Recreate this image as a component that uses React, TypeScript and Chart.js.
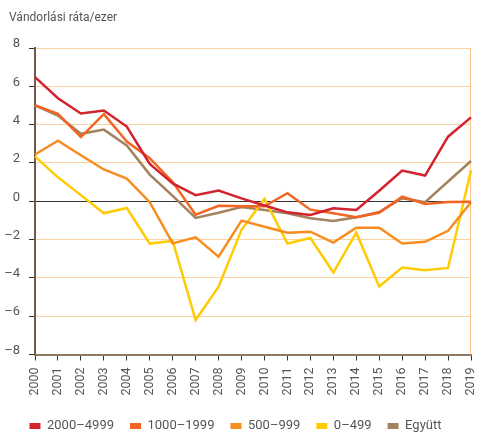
import React, { useEffect, useRef } from 'react';
import { Chart, registerables } from 'chart.js';

Chart.register(...registerables);

const years = ['2000', '2001', '2002', '2003', '2004', '2005', '2006', '2007', '2008', '2009',
  '2010', '2011', '2012', '2013', '2014', '2015', '2016', '2017', '2018', '2019'];

const seriesNames = ['2000–4999', '1000–1999', '500–999', '0–499', 'Együtt'];

const s2000_4999 = [6.48, 5.38, 4.58, 4.74, 3.9, 1.95, 0.93, 0.32, 0.56, 0.15, -0.22, -0.58, -0.72, -0.37, -0.46, 0.55, 1.6, 1.34, 3.37, 4.38];
const s1000_1999 = [5.01, 4.56, 3.35, 4.55, 3.12, 2.25, 1.0, -0.7, -0.24, -0.26, -0.26, 0.42, -0.44, -0.63, -0.84, -0.6, 0.24, -0.14, -0.04, -0.03];
const s500_999 = [2.44, 3.16, 2.4, 1.66, 1.18, -0.05, -2.2, -1.88, -2.89, -1.01, -1.33, -1.64, -1.59, -2.16, -1.38, -1.38, -2.21, -2.12, -1.54, -0.05];
const s0_499 = [2.34, 1.25, 0.32, -0.63, -0.35, -2.21, -2.07, -6.2, -4.46, -1.49, 0.12, -2.21, -1.92, -3.72, -1.64, -4.45, -3.46, -3.6, -3.48, 1.62];
const sEgyutt = [5.01, 4.47, 3.52, 3.74, 2.91, 1.39, 0.28, -0.87, -0.6, -0.3, -0.46, -0.63, -0.89, -1.03, -0.83, -0.56, 0.16, -0.05, 1.03, 2.1];

const seriesColors = ['#d2232e', '#f26522', '#f78d1f', '#ffcb05', '#a3825f'];

const yMin = -8;
const yMax = 8;
const yStep = 2;
const titleText = 'Vándorlási ráta/ezer';

const FONT = "Roboto, 'DejaVu Sans Condensed', sans-serif";
const TEXT = '#555555';

export default function App() {
  const ref = useRef<HTMLCanvasElement>(null);

  useEffect(() => {
    if (!ref.current) return;
    const decorations = {
      id: 'decorations',
      beforeDatasetsDraw(chart: any) {
        const { ctx, chartArea } = chart;
        ctx.save();
        ctx.strokeStyle = '#fcc48a';
        ctx.lineWidth = 1;
        ctx.beginPath();
        ctx.moveTo(chartArea.right - 0.5, chartArea.top);
        ctx.lineTo(chartArea.right - 0.5, chartArea.bottom);
        ctx.stroke();
        ctx.restore();
      },
      afterDraw(chart: any) {
        const { ctx } = chart;
        ctx.save();
        ctx.fillStyle = TEXT;
        ctx.font = `12px ${FONT}`;
        ctx.textAlign = 'left';
        ctx.textBaseline = 'middle';
        ctx.fillText(titleText, 9, 18);
        ctx.restore();
      },
    };

    const allData = [s2000_4999, s1000_1999, s500_999, s0_499, sEgyutt];

    const chart = new Chart(ref.current, {
      type: 'line',
      data: {
        labels: years,
        datasets: allData.map((d, i) => ({
          label: seriesNames[i],
          data: d,
          borderColor: seriesColors[i],
          backgroundColor: seriesColors[i],
          borderWidth: 2.5,
          pointRadius: 0,
          tension: 0,
          fill: false,
        })),
      },
      options: {
        animation: false,
        responsive: true,
        maintainAspectRatio: false,
        layout: { padding: { left: 0, right: 6, top: 48, bottom: -7.5 } },
        plugins: {
          title: { display: false },
          legend: {
            position: 'bottom',
            align: 'center',
            labels: {
              color: TEXT,
              font: { family: FONT, size: 13 },
              boxWidth: 11,
              boxHeight: 6,
              padding: 16,
              generateLabels: (c: any) =>
                Chart.defaults.plugins.legend.labels.generateLabels(c).map((l: any) => ({
                  ...l,
                  lineWidth: 0,
                  strokeStyle: 'rgba(0,0,0,0)',
                })),
            },
          },
          tooltip: { enabled: false },
        },
        scales: {
          x: {
            type: 'category',
            offset: false,
            grid: {
              display: true,
              drawOnChartArea: false,
              drawTicks: true,
              tickLength: 6,
              tickColor: '#333333',
              tickWidth: 1,
            },
            border: { display: true, color: '#8c7762', width: 2 },
            ticks: {
              autoSkip: false,
              maxRotation: 90,
              minRotation: 90,
              color: TEXT,
              font: { family: FONT, size: 12.5 },
              padding: 7,
            },
            afterFit: (scale: any) => {
              scale.height = 49;
              scale.paddingLeft = 0;
              scale.paddingRight = 0;
            },
          },
          y: {
            min: yMin,
            max: yMax,
            grid: {
              color: (ctx: any) => (ctx.tick && ctx.tick.value === 0 ? '#333333' : '#fdd2a2'),
              lineWidth: 1,
              drawTicks: true,
              tickLength: 6,
              tickColor: '#333333',
              tickWidth: 1,
            },
            border: { display: true, color: '#6e5b4a', width: 2 },
            ticks: {
              stepSize: yStep,
              color: TEXT,
              font: { family: FONT, size: 13 },
              padding: 9,
              labelOffset: -4,
              callback: (v: any) => String(v).replace('-', '–'),
            },
            afterFit: (scale: any) => {
              scale.width = 35;
              scale.paddingTop = 0;
              scale.paddingBottom = 0;
            },
          },
        },
      },
      plugins: [decorations],
    });

    return () => chart.destroy();
  }, []);

  return (
    <div style={{ position: 'fixed', left: 0, top: 0, width: 477, height: 435 }}>
      <canvas ref={ref} />
    </div>
  );
}
